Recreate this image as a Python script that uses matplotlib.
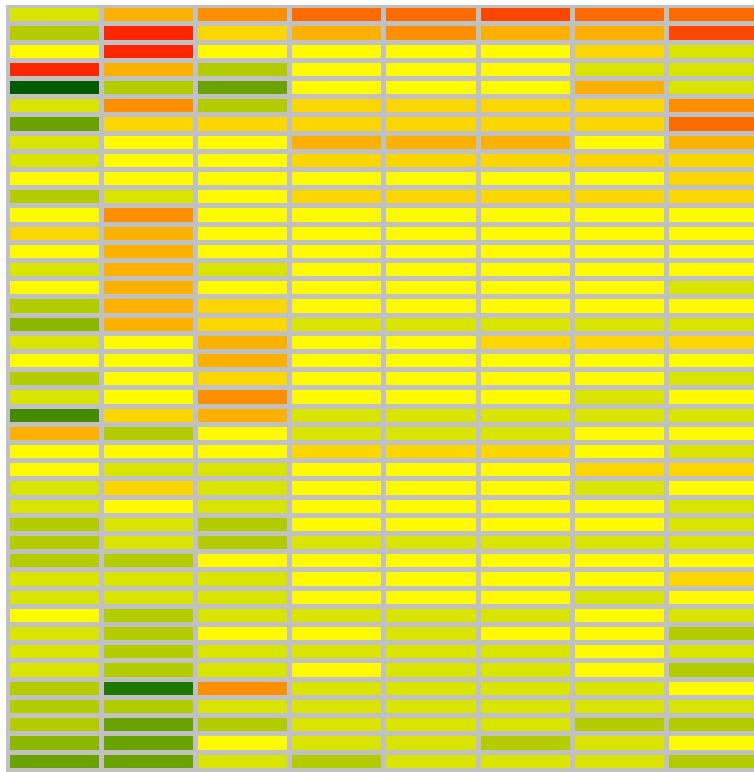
import numpy as np
import matplotlib
matplotlib.use("Agg")
import matplotlib.pyplot as plt
from matplotlib.colors import ListedColormap, BoundaryNorm

# colour levels, from dark green (0) through yellow (7) to red (13)
level_colors = ['#005a00', '#1f7700', '#458a00', '#6aa300', '#8db600',
                '#b2cc00', '#d9e400', '#fffa00', '#fcd600', '#fcb000',
                '#fc8f00', '#fc6b00', '#fc4700', '#fc2700']

columns = ['c1', 'c2', 'c3', 'c4', 'c5', 'c6', 'c7', 'c8']

# one list per row, top to bottom
rows = [
    [6, 9, 10, 11, 11, 12, 11, 11],
    [5, 13, 8, 9, 10, 9, 9, 12],
    [7, 13, 7, 7, 7, 7, 8, 6],
    [13, 9, 5, 7, 7, 7, 6, 6],
    [0, 5, 3, 7, 7, 7, 9, 6],
    [6, 10, 5, 8, 8, 8, 8, 10],
    [3, 8, 8, 8, 8, 8, 8, 11],
    [6, 7, 7, 9, 9, 9, 7, 9],
    [6, 7, 7, 8, 8, 8, 8, 8],
    [7, 7, 7, 7, 7, 7, 7, 8],
    [5, 6, 7, 8, 8, 8, 8, 8],
    [7, 10, 7, 7, 7, 7, 7, 7],
    [8, 9, 7, 7, 7, 7, 7, 7],
    [7, 9, 7, 7, 7, 7, 7, 7],
    [6, 9, 6, 7, 7, 7, 7, 7],
    [7, 9, 7, 7, 7, 7, 7, 6],
    [5, 9, 8, 7, 7, 7, 7, 7],
    [4, 9, 8, 6, 6, 6, 6, 6],
    [6, 7, 9, 7, 7, 8, 8, 8],
    [7, 7, 9, 7, 7, 7, 7, 7],
    [5, 7, 8, 7, 7, 7, 7, 6],
    [6, 7, 10, 7, 7, 7, 6, 7],
    [2, 8, 9, 6, 6, 6, 6, 6],
    [9, 5, 7, 6, 6, 6, 7, 7],
    [7, 7, 7, 8, 8, 8, 7, 6],
    [7, 6, 6, 7, 7, 7, 8, 8],
    [6, 8, 6, 7, 7, 7, 6, 7],
    [6, 7, 6, 7, 7, 7, 7, 6],
    [5, 6, 5, 7, 7, 7, 7, 6],
    [5, 6, 5, 6, 6, 6, 6, 6],
    [5, 5, 7, 7, 7, 7, 7, 7],
    [6, 6, 6, 7, 7, 7, 7, 8],
    [6, 6, 6, 7, 7, 7, 6, 7],
    [7, 5, 6, 6, 6, 6, 7, 6],
    [6, 5, 7, 7, 6, 7, 7, 5],
    [6, 5, 6, 6, 6, 6, 7, 6],
    [6, 5, 6, 7, 6, 6, 7, 5],
    [5, 1, 10, 6, 6, 6, 6, 7],
    [5, 5, 6, 6, 6, 6, 6, 6],
    [5, 3, 5, 6, 6, 6, 5, 5],
    [4, 3, 7, 6, 6, 5, 6, 7],
    [3, 3, 6, 5, 6, 6, 6, 5],
]

data = np.array(rows)
n_rows, n_cols = data.shape

cmap = ListedColormap(level_colors)
norm = BoundaryNorm(np.arange(-0.5, len(level_colors) + 0.5), cmap.N)

W, H = 754, 772
fig = plt.figure(figsize=(W / 100, H / 100), dpi=100)
fig.patch.set_facecolor('white')

grid = '#c1c1c1'
# pixel geometry of the grid
x0, xpitch = 6.5, 94.2
y0, ypitch = 5.3, 18.2
left_px, right_px = 5.5, 762.0
top_px, bottom_px = 4.8, 771.5

ax = fig.add_axes([left_px / W, (H - bottom_px) / H,
                   (right_px - left_px) / W, (bottom_px - top_px) / H])
ax.set_facecolor(grid)
ax.pcolormesh(np.arange(n_cols + 1), np.arange(n_rows + 1), data,
              cmap=cmap, norm=norm, edgecolors=grid, linewidth=2.2)

ax.set_xlim((left_px - x0) / xpitch, (right_px - x0) / xpitch)
ax.set_ylim((bottom_px - y0) / ypitch, (top_px - y0) / ypitch)
ax.set_xticks([])
ax.set_yticks([])
for s in ax.spines.values():
    s.set_visible(False)

fig.savefig('out.png', dpi=100, facecolor=fig.get_facecolor())
